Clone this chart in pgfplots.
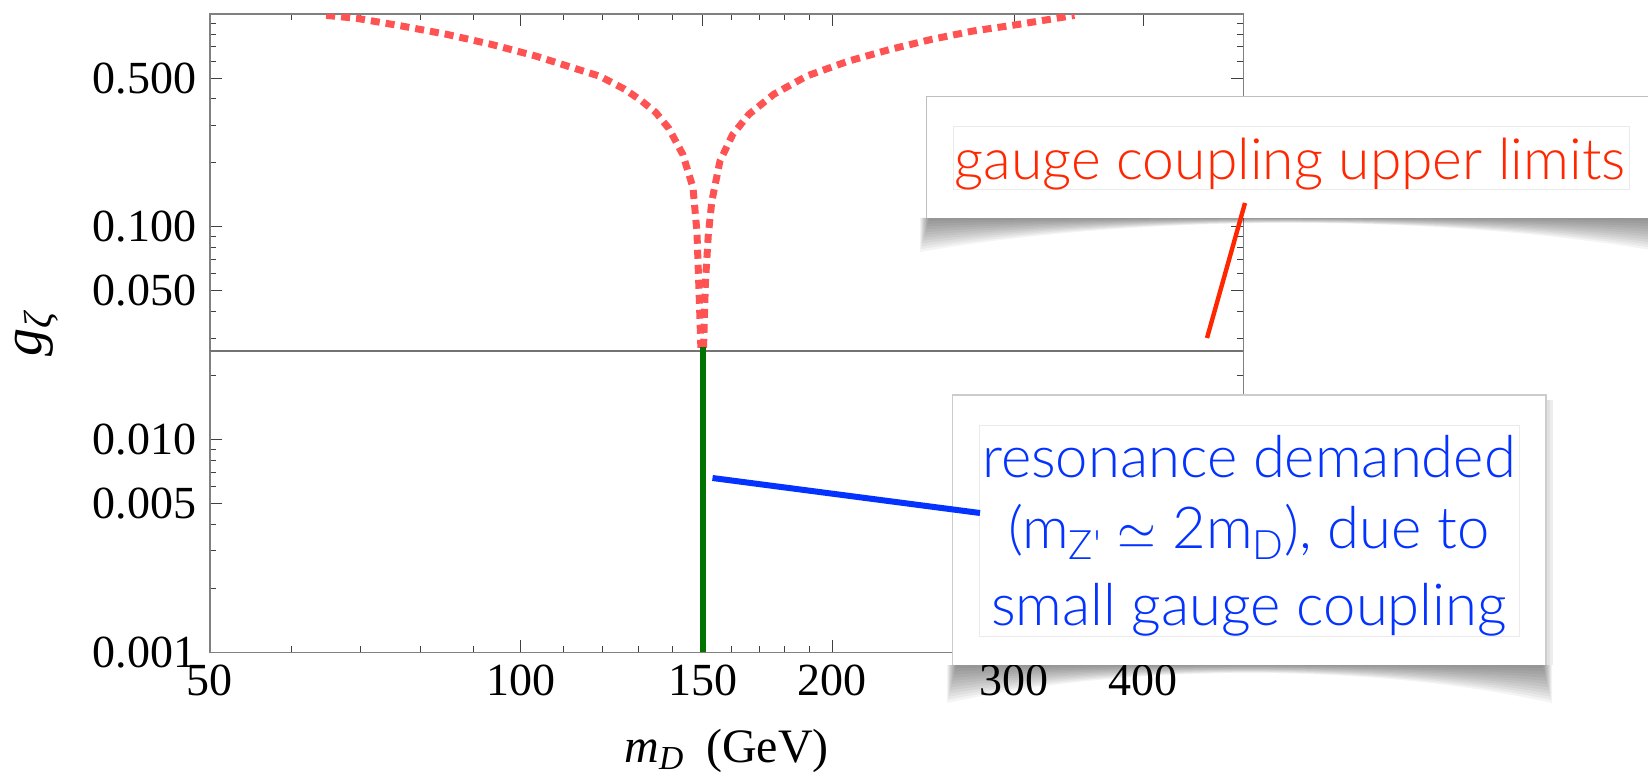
\documentclass[border=0pt]{standalone}
\usepackage{fontspec}
\setmainfont{Liberation Serif}
\newfontfamily\gill{Lato Light}
\usepackage{pgfplots}
\pgfplotsset{compat=1.18}
\definecolor{curvered}{RGB}{255,82,82}
\definecolor{kred}{RGB}{255,38,0}
\definecolor{kblue}{RGB}{4,51,255}
\definecolor{dgreen}{RGB}{0,115,0}
% L R B edge-depth control-depth
\newcommand{\curlshadow}[5]{%
  \foreach \i in {0,...,11}{%
    \fill[black, opacity=0.045] (#1+\i*0.8, #3) -- (#1+\i*0.8, #3+#4-\i*#4/12)
      .. controls (#1+0.3*#2-0.3*#1, #3+#5-\i*#5/12) and (#1+0.7*#2-0.7*#1, #3+#5-\i*#5/12)
      .. (#2-\i*0.8, #3+#4-\i*#4/12) -- (#2-\i*0.8, #3) -- cycle;
  }%
}
\begin{document}
\begin{tikzpicture}
\useasboundingbox (-104.9pt,-62.85pt) rectangle (719.1pt,326.15pt);
\begin{axis}[at={(0pt,0pt)}, anchor=south west, scale only axis,
  width=516.8pt, height=319.15pt,
  xmode=log, ymode=log, xmin=50, xmax=500, ymin=0.001, ymax=1,
  xtick={50,100,150,200,300,400}, xticklabels={50,100,150,200,300,400},
  minor xtick={60,70,80,90,110,120,130,140,160,170,180,190},
  ytick={0.001,0.005,0.01,0.05,0.1,0.5},
  yticklabels={0.001,0.005,0.010,0.050,0.100,0.500},
  minor ytick={0.002,0.003,0.004,0.006,0.007,0.008,0.009,0.02,0.03,0.04,0.06,0.07,0.08,0.09,0.2,0.3,0.4,0.6,0.7,0.8,0.9},
  major tick length=6pt, minor tick length=3pt,
  tick style={black!75, line width=0.5pt},
  axis line style={black!50, line width=0.8pt},
  tick label style={font=\fontsize{23}{27}\selectfont},
  xticklabel style={anchor=base, yshift=-21.6pt},
  yticklabel style={anchor=east, inner sep=0pt, xshift=-6.5pt},
]
\addplot[black!55, line width=0.8pt] coordinates {(50,0.026) (500,0.026)};
\addplot[curvered, line width=3.5pt, dash pattern=on 4.5pt off 3pt] coordinates {
(64.8,0.985) (69.4,0.954) (76.7,0.878) (84.7,0.803) (93.5,0.721) (103.3,0.635)
(114.1,0.545) (119.2,0.510) (126.0,0.443) (130.8,0.391) (135.0,0.345) (139.0,0.290)
(143.4,0.219) (146.7,0.153) (148.0,0.095) (148.8,0.045) (149.3,0.027)};
\addplot[curvered, line width=3.5pt, dash pattern=on 4.5pt off 3pt] coordinates {
(150.2,0.027) (150.8,0.054) (151.8,0.092) (153.0,0.132) (155.8,0.204) (160.3,0.272)
(166.2,0.338) (175.7,0.420) (189.2,0.512) (207.5,0.601) (227.6,0.682) (249.6,0.760)
(273.8,0.832) (300,0.887) (329.3,0.954) (343.2,0.985)};
\addplot[curvered, line width=0.7pt] coordinates {(150.6,0.027) (150.6,0.001)};
\addplot[dgreen, line width=3pt] coordinates {(149.9,0.0271) (149.9,0.001)};
\end{axis}
\begin{scope}[x=0.5pt,y=-0.5pt,shift={(-104.9pt,326.15pt)}]
  % axis labels
  \node[font=\fontsize{24}{28}\selectfont, anchor=base, inner sep=0pt] at (726.6,762)
    {\textit{m}\textsubscript{\textit{D}}\hspace{0.45em}(GeV)};
  \node[font=\fontsize{28}{30}\selectfont, rotate=90, inner sep=0pt] at (37,333)
    {\textit{g}\textsubscript{\textit{ζ}}};
  % shadows
  \curlshadow{920}{1662}{218}{34}{-4.7}
  \curlshadow{947}{1552}{665}{38}{-2}
  \fill[black, opacity=0.07] (1546,400) rectangle (1553,665);
  \fill[black, opacity=0.05] (1546,400) rectangle (1550,665);
  % red box
  \fill[white] (926.5,96.7) rectangle (1700,218.3);
  \draw[black!25, line width=0.6pt] (926.5,218.3) -- (926.5,96.7) -- (1700,96.7);
  \draw[black!8, line width=0.5pt] (953.5,126.7) rectangle (1629.4,190);
  \node[anchor=base, text=kred, font=\gill\fontsize{28.5}{33}\selectfont, inner sep=0pt]
    at (1290,180) {gauge coupling upper limits};
  % blue box
  \fill[white] (952.5,395) rectangle (1546,665);
  \draw[black!20, line width=0.6pt] (952.5,665) -- (952.5,395) -- (1546,395) -- (1546,665);
  \draw[black!8, line width=0.5pt] (979,425) rectangle (1519,636.7);
  \begin{scope}[every node/.style={anchor=base, text=kblue, font=\gill\fontsize{29}{37}\selectfont, inner sep=0pt}]
    \node at (1249,477) {resonance demanded};
    \node at (1249,548) {(m\textsubscript{Z'} $\simeq$ 2m\textsubscript{D}), due to};
    \node at (1249,625) {small gauge coupling};
  \end{scope}
  % callout lines
  \draw[kred, line width=2.2pt] (1245,203) -- (1207,338);
  \draw[kblue, line width=3pt] (712.5,478) -- (980,513);
\end{scope}
\end{tikzpicture}
\end{document}
